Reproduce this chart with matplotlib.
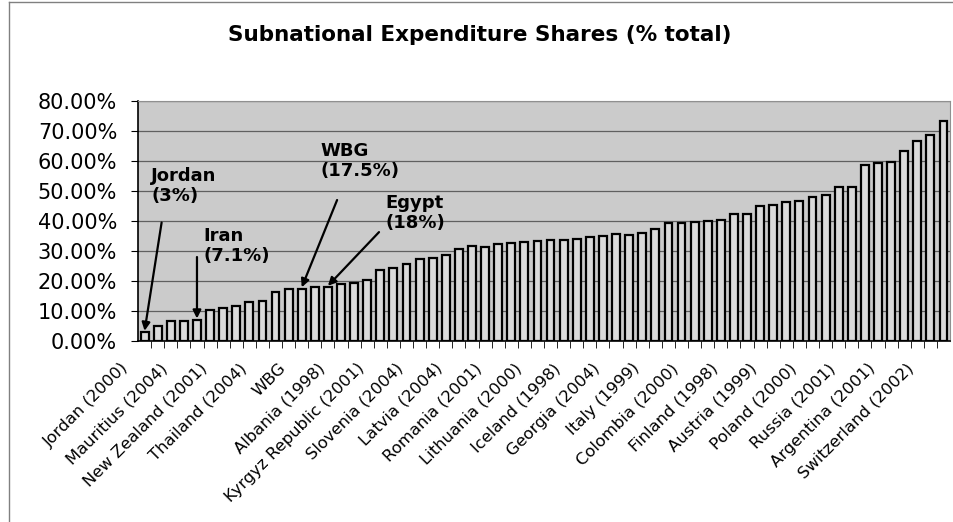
# subnational expenditure shares bar chart

import matplotlib
matplotlib.use('Agg')
import matplotlib.pyplot as plt
import matplotlib.transforms as mtransforms
from matplotlib.lines import Line2D
from matplotlib.ticker import FuncFormatter, MultipleLocator
import numpy as np

# shares (% of total), sorted ascending, one per country/year
shares = [3.0, 5.1, 6.7, 6.7, 7.1, 10.4, 11.0, 11.6, 12.9, 13.5,
          16.5, 17.5, 17.5, 18.0, 18.0, 19.0, 19.4, 20.3, 23.7, 24.2,
          25.6, 27.2, 27.8, 28.6, 30.6, 31.6, 31.4, 32.3, 32.7, 33.1,
          33.4, 33.6, 33.6, 34.0, 34.6, 35.1, 35.7, 35.5, 36.0, 37.5,
          39.2, 39.4, 39.7, 39.9, 40.3, 42.4, 42.4, 44.9, 45.3, 46.3,
          46.8, 47.9, 48.8, 51.3, 51.3, 58.8, 59.4, 59.7, 63.3, 66.7,
          68.7, 73.2]

# only every third category gets a label on the axis
shown_labels = ['Jordan (2000)', 'Mauritius (2004)', 'New Zealand (2001)',
                'Thailand (2004)', 'WBG', 'Albania (1998)',
                'Kyrgyz Republic (2001)', 'Slovenia (2004)', 'Latvia (2004)',
                'Romania (2001)', 'Lithuania (2000)', 'Iceland (1998)',
                'Georgia (2004)', 'Italy (1999)', 'Colombia (2000)',
                'Finland (1998)', 'Austria (1999)', 'Poland (2000)',
                'Russia (2001)', 'Argentina (2001)', 'Switzerland (2002)']
label_step = 3

# callouts: text, bar index, where the text / arrow tail sit
callouts = [('Jordan\n(3%)', 0, (0.5, 58.0), (1.3, 39.5)),
            ('Iran\n(7.1%)', 4, (4.5, 38.0), (4.0, 28.0)),
            ('WBG\n(17.5%)', 12, (13.4, 66.5), (14.7, 47.0)),
            ('Egypt\n(18%)', 14, (18.4, 49.0), (17.9, 36.3))]

plt.rcParams['font.family'] = ['DejaVu Sans']

fig = plt.figure(figsize=(9.54, 5.22), dpi=100, facecolor='w')
ax = fig.add_axes([0.1447, 0.3467, 0.8511, 0.4598])

x = np.arange(len(shares))
ax.set_facecolor('#cbcbcb')
ax.bar(x, shares, width=0.6, color='#dadada', edgecolor='black',
       linewidth=1.6, zorder=3)

ax.set_xlim(-0.5, len(shares) - 0.5)
ax.set_ylim(0, 80)
ax.yaxis.set_major_locator(MultipleLocator(10))
ax.yaxis.set_major_formatter(FuncFormatter(lambda v, p: '%.2f%%' % v))
ax.grid(axis='y', color='#606060', linewidth=0.9, zorder=1)

ax.set_xticks(x[::label_step])
ax.set_xticklabels(shown_labels, rotation=45, ha='right',
                   rotation_mode='anchor', fontsize=11.8)
ax.set_xticks(x[:-1] + 0.5, minor=True)
ax.tick_params(axis='x', which='major', length=0, pad=14)
ax.tick_params(axis='x', which='minor', length=5, color='black')
ax.tick_params(axis='y', length=5, pad=10, labelsize=15)
shift = mtransforms.ScaledTranslation(-24 / 100, 0, fig.dpi_scale_trans)
for lab in ax.get_xticklabels():
    lab.set_transform(lab.get_transform() + shift)

for side in ['top', 'right']:
    ax.spines[side].set_color('#909090')
for side in ['left', 'bottom']:
    ax.spines[side].set_color('black')
    ax.spines[side].set_linewidth(1.2)

for text, idx, txt_pos, tail in callouts:
    ax.text(txt_pos[0], txt_pos[1], text, fontsize=13, fontweight='bold',
            ha='left', va='top', linespacing=1.15, zorder=5)
    ax.annotate('', xy=(idx, shares[idx] + 0.4), xytext=tail,
                arrowprops=dict(arrowstyle='-|>', color='black', lw=1.6,
                                mutation_scale=12, shrinkA=0, shrinkB=0),
                zorder=5)

fig.text(0.503, 0.933, 'Subnational Expenditure Shares (% total)',
         ha='center', va='center', fontsize=15.5, fontweight='bold')

# frame lines of the original sheet
fig.add_artist(Line2D([0.009, 0.009], [0, 0.997], color='#808080', lw=1))
fig.add_artist(Line2D([0.009, 1], [0.997, 0.997], color='#808080', lw=1))

fig.savefig('out.png', dpi=100, facecolor='w')
